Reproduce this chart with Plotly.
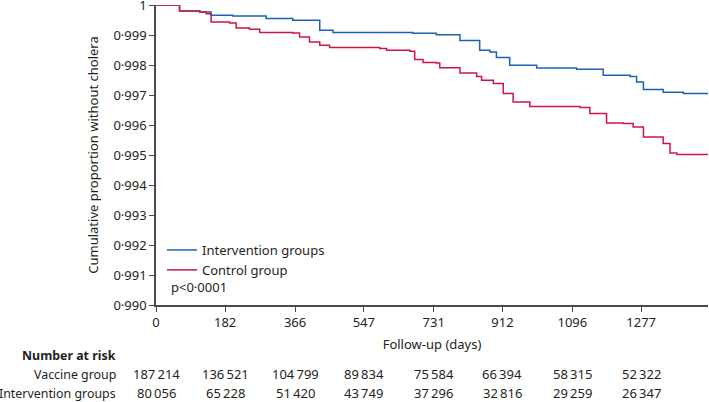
import plotly.graph_objects as go

# ---- data ----
intervention_days = [0, 62, 115, 145, 202, 290, 360, 431, 466, 510, 676, 738, 800, 852, 879, 896, 931,
                     1002, 1107, 1177, 1248, 1265, 1283, 1335, 1388, 1453]
intervention_surv = [1.0, 0.9998, 0.99977, 0.99966, 0.99963, 0.99955, 0.99949, 0.99916, 0.99908, 0.99908,
                     0.99906, 0.99901, 0.99882, 0.99849, 0.99843, 0.99825, 0.99799, 0.99790, 0.99786,
                     0.99766, 0.99762, 0.99743, 0.99718, 0.99709, 0.99705, 0.99702]

control_days = [0, 62, 115, 132, 145, 194, 211, 246, 273, 360, 378, 404, 431, 457, 510, 589, 607, 668, 681,
                703, 738, 747, 800, 844, 857, 888, 914, 940, 984, 1116, 1142, 1186, 1230, 1256, 1283, 1335,
                1353, 1371, 1453]
control_surv = [1.0, 0.9998, 0.99977, 0.99971, 0.99943, 0.99940, 0.99923, 0.99919, 0.99908, 0.99907, 0.99893,
                0.99877, 0.99866, 0.99858, 0.99858, 0.99855, 0.99849, 0.99846, 0.99818, 0.99808, 0.99807,
                0.99791, 0.99773, 0.99762, 0.99749, 0.99738, 0.99705, 0.99677, 0.99662, 0.99658, 0.99638,
                0.99607, 0.99605, 0.99593, 0.99560, 0.99538, 0.99507, 0.99502, 0.99502]

x_ticks = [0, 182, 366, 547, 731, 912, 1096, 1277]
y_ticks = [0.990, 0.991, 0.992, 0.993, 0.994, 0.995, 0.996, 0.997, 0.998, 0.999, 1.0]
y_tick_labels = ["0·990", "0·991", "0·992", "0·993", "0·994", "0·995", "0·996", "0·997", "0·998", "0·999", "1"]

risk_rows = ["Vaccine group", "Intervention groups"]
risk_vaccine = ["187\u2009214", "136\u2009521", "104\u2009799", "89\u2009834", "75\u2009584", "66\u2009394", "58\u2009315", "52\u2009322"]
risk_intervention = ["80\u2009056", "65\u2009228", "51\u2009420", "43\u2009749", "37\u2009296", "32\u2009816", "29\u2009259", "26\u2009347"]

BLUE = "#1c62b4"
RED = "#cc1746"
FONT = "Noto Sans"
TXT = "#231f20"
AX = "#4a4a4a"
FS = 13
FS_LAB = 12.4

fig = go.Figure()
fig.add_trace(go.Scatter(x=intervention_days, y=intervention_surv, mode="lines", line_shape="hv",
                         line=dict(color=BLUE, width=1.5), name="Intervention groups"))
fig.add_trace(go.Scatter(x=control_days, y=control_surv, mode="lines", line_shape="hv",
                         line=dict(color=RED, width=1.5), name="Control group"))

# plot area geometry (px)
L, R, T, B = 156, 1, 5, 97
W, H = 709, 402
ph = H - T - B
pw = W - L - R


def py(ypx):
    return (H - B - ypx) / ph


def px(xpx):
    return (xpx - L) / pw


annotations = [
    dict(text="p<0·0001", x=px(169), y=py(287), xref="paper", yref="paper", xanchor="left", yanchor="middle",
         showarrow=False, font=dict(size=FS, color=TXT, family=FONT)),
    dict(text="<b>Number at risk</b>", x=px(118), y=py(355), xref="paper", yref="paper", xanchor="right",
         yanchor="middle", showarrow=False, font=dict(size=FS_LAB, color=TXT, family=FONT)),
]
for row_label, yy in zip(risk_rows, [374, 393]):
    annotations.append(dict(text=row_label, x=px(118), y=py(yy), xref="paper", yref="paper", xanchor="right",
                            yanchor="middle", showarrow=False, font=dict(size=FS_LAB, color=TXT, family=FONT)))
for vals, yy in zip([risk_vaccine, risk_intervention], [374, 393]):
    for xv, t in zip(x_ticks, vals):
        annotations.append(dict(text=t, x=xv, y=py(yy), xref="x", yref="paper", xanchor="center",
                                yanchor="middle", showarrow=False, font=dict(size=FS, color=TXT, family=FONT)))

fig.update_layout(
    width=W, height=H,
    margin=dict(l=L, r=R, t=T, b=B, autoexpand=False),
    paper_bgcolor="white", plot_bgcolor="white",
    font=dict(family=FONT, size=FS, color=TXT),
    showlegend=True,
    legend=dict(x=px(162), y=py(235), xanchor="left", yanchor="top", bgcolor="rgba(0,0,0,0)",
                font=dict(size=FS, family=FONT, color=TXT), tracegroupgap=0, itemwidth=30),
    xaxis=dict(range=[0, 1453], tickvals=x_ticks, ticktext=[str(v) for v in x_ticks], automargin=False,
               showgrid=False, zeroline=False, showline=True, linecolor=AX, linewidth=1.5,
               ticks="outside", ticklen=5, tickcolor=AX, tickwidth=1.2,
               title=dict(text="Follow-up (days)", standoff=10, font=dict(size=FS)), fixedrange=True),
    yaxis=dict(range=[0.990, 1.0000001], tickvals=y_ticks, ticktext=y_tick_labels, automargin=False,
               ticklabeloverflow="allow",
               showgrid=False, zeroline=False, showline=True, linecolor=AX, linewidth=1.5,
               ticks="outside", ticklen=5, tickcolor=AX, tickwidth=1.2,
               title=dict(text="Cumulative proportion without cholera", standoff=12, font=dict(size=FS)),
               fixedrange=True),
    annotations=annotations,
)
fig.update_traces(cliponaxis=False)

fig.write_html("out.html", config={"displayModeBar": False},
               post_script="document.body.style.margin='0';document.body.style.overflow='hidden';")
